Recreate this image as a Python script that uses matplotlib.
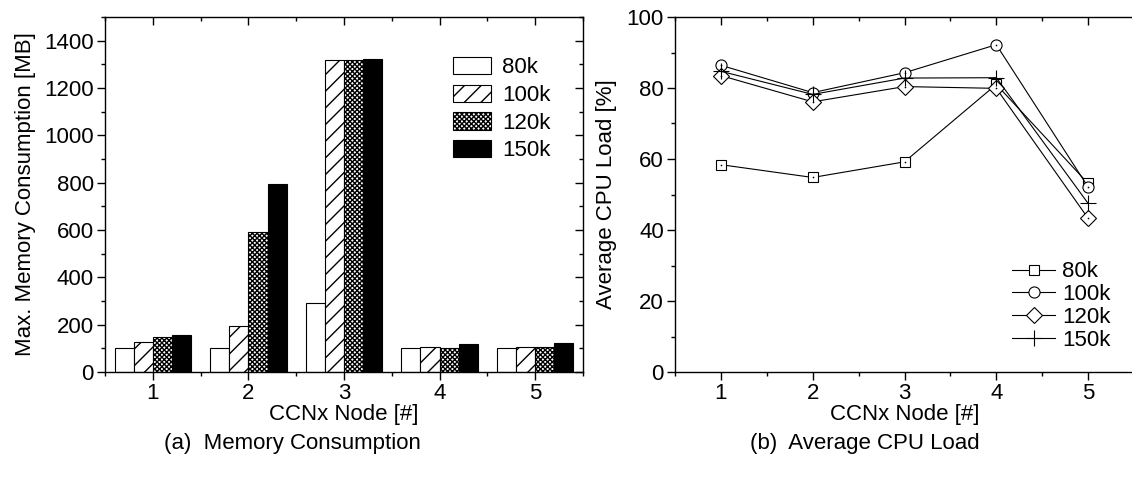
import matplotlib
matplotlib.use("Agg")
import matplotlib.pyplot as plt
import numpy as np
from matplotlib.ticker import MultipleLocator

plt.rcParams['font.family'] = ['Liberation Sans', 'DejaVu Sans']
plt.rcParams['hatch.linewidth'] = 1.0

nodes = [1, 2, 3, 4, 5]
series_labels = ['80k', '100k', '120k', '150k']

mem_80k = [100, 100, 292, 100, 100]
mem_100k = [126, 194, 1320, 105, 107]
mem_120k = [148, 590, 1320, 102, 104]
mem_150k = [158, 795, 1322, 120, 121]

cpu_80k = [58.4, 54.8, 59.2, 81.0, 53.1]
cpu_100k = [86.4, 78.7, 84.3, 92.2, 52.1]
cpu_120k = [83.5, 76.1, 80.4, 79.9, 43.3]
cpu_150k = [84.7, 78.2, 82.8, 82.9, 47.5]

FS = 16

fig = plt.figure(figsize=(11.32, 4.8), dpi=100)
W, H = 1132.0, 480.0
ax1 = fig.add_axes([105 / W, 1 - 372 / H, (583 - 105) / W, (372 - 17) / H])
ax2 = fig.add_axes([675 / W, 1 - 372 / H, (1134 - 675) / W, (372 - 17) / H])

# ---- bar chart ----
mem = [mem_80k, mem_100k, mem_120k, mem_150k]
styles = [dict(facecolor='white', hatch=None),
          dict(facecolor='white', hatch='//'),
          dict(facecolor='white', hatch='xxxxxxx'),
          dict(facecolor='black', hatch=None)]
bw = 0.2
x = np.array(nodes, dtype=float)
handles = []
for i, (vals, st) in enumerate(zip(mem, styles)):
    b = ax1.bar(x + (i - 1.5) * bw, vals, width=bw, edgecolor='black',
                linewidth=0.8, label=series_labels[i], **st)
    handles.append(b)
ax1.set_xlim(0.5, 5.5)
ax1.set_ylim(0, 1500)
ax1.set_xticks(nodes)
ax1.xaxis.set_minor_locator(MultipleLocator(0.5))
ax1.yaxis.set_major_locator(MultipleLocator(200))
ax1.yaxis.set_minor_locator(MultipleLocator(100))
ax1.set_xlabel('CCNx Node [#]', fontsize=FS, labelpad=0)
ax1.set_ylabel('Max. Memory Consumption [MB]', fontsize=FS, labelpad=6)
ax1.legend(handles=handles, loc='upper left', bbox_to_anchor=(0.728, 0.887),
           frameon=False, fontsize=FS, handlelength=1.7, handleheight=0.82,
           labelspacing=0.28, handletextpad=0.5, borderaxespad=0, borderpad=0)

# ---- line chart ----
cpu = [cpu_80k, cpu_100k, cpu_120k, cpu_150k]
markers = ['s', 'o', 'D', '+']
msizes = [6.5, 8, 8, 11]
for vals, m, ms, lab in zip(cpu, markers, msizes, series_labels):
    if m == '+':
        ax2.plot(nodes, vals, color='black', linewidth=0.8, marker=m,
                 markersize=ms, markeredgewidth=0.8, label=lab)
    else:
        ax2.plot(nodes, vals, color='black', linewidth=0.8, marker=m,
                 markersize=ms, markerfacecolor='white', markeredgecolor='black',
                 markeredgewidth=0.8, label=lab)
        ax2.plot(nodes, vals, linestyle='none', marker='o', markersize=1.2,
                 color='black', markeredgewidth=0)
ax2.set_xlim(0.5, 5.5)
ax2.set_ylim(0, 100)
ax2.set_xticks(nodes)
ax2.xaxis.set_minor_locator(MultipleLocator(0.5))
ax2.yaxis.set_major_locator(MultipleLocator(20))
ax2.yaxis.set_minor_locator(MultipleLocator(10))
ax2.set_xlabel('CCNx Node [#]', fontsize=FS, labelpad=0)
ax2.set_ylabel('Average CPU Load [%]', fontsize=FS, labelpad=7)
ax2.legend(loc='lower left', bbox_to_anchor=(0.734, 0.06), frameon=False,
           fontsize=FS, handlelength=1.95, labelspacing=0.08,
           handletextpad=0.3, borderaxespad=0, borderpad=0)

for ax in (ax1, ax2):
    for sp in ax.spines.values():
        sp.set_linewidth(1.0)
    ax.tick_params(axis='both', which='major', labelsize=FS, length=6, width=1.0,
                   direction='out', pad=2)
    ax.tick_params(axis='both', which='minor', length=3, width=1.0, direction='out')
    ax.tick_params(axis='x', which='both', top=True)
    ax.tick_params(axis='y', which='both', right=(ax is ax1))
    # top/right ticks point inward
    for t in ax.xaxis.get_major_ticks() + ax.xaxis.get_minor_ticks():
        t.tick2line.set_marker(3)
    for t in ax.yaxis.get_major_ticks() + ax.yaxis.get_minor_ticks():
        t.tick2line.set_marker(0)

fig.text(292 / W, 1 - 443 / H, '(a)  Memory Consumption', fontsize=FS,
         ha='center', va='center')
fig.text(865 / W, 1 - 443 / H, '(b)  Average CPU Load', fontsize=FS,
         ha='center', va='center')

fig.savefig('out.png', dpi=100)
